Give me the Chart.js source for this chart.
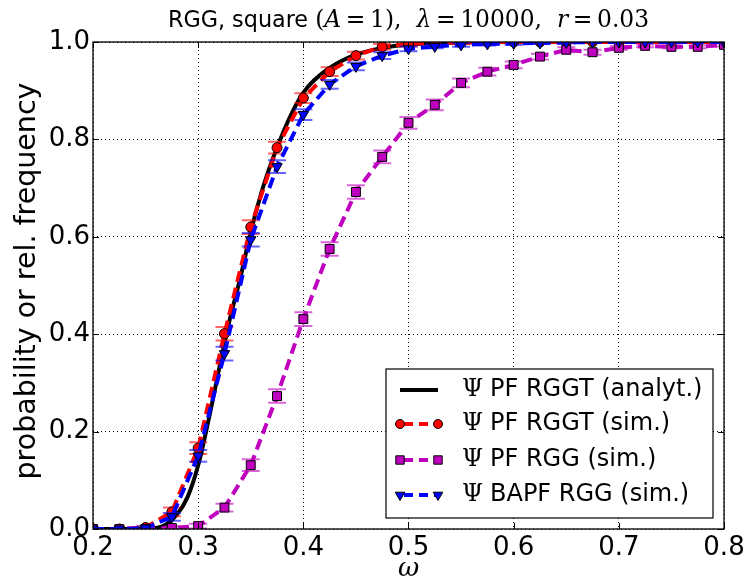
<!DOCTYPE html>
<html><head><meta charset="utf-8">
<script src="https://cdn.jsdelivr.net/npm/chart.js@4/dist/chart.umd.min.js"></script>
<style>html,body{margin:0;padding:0;background:#fff;}#wrap{width:750px;height:583px;position:relative;}</style>
</head><body><div id="wrap"><canvas id="c" width="750" height="583"></canvas></div>
<script>
// ---- data ----
const omega = [0.2,0.225,0.25,0.275,0.3,0.325,0.35,0.375,0.4,0.425,0.45,0.475,0.5,0.525,0.55,0.575,0.6,0.625,0.65,0.675,0.7,0.725,0.75,0.775,0.8];
const psiPfRggtSim  = [0,0,0.003,0.035,0.166,0.401,0.62,0.783,0.885,0.939,0.972,0.99,0.996,0.998,0.999,1,1,1,1,1,1,1,1,1,1];
const errPfRggtSim  = [0,0,0.003,0.009,0.012,0.014,0.014,0.012,0.01,0.009,0.008,0.006,0.005,0.004,0.003,0.002,0,0,0,0,0,0,0,0,0];
const psiPfRggSim   = [0,0,0,0.002,0.006,0.044,0.131,0.273,0.431,0.575,0.692,0.764,0.834,0.871,0.916,0.939,0.953,0.97,0.984,0.979,0.988,0.992,0.99,0.99,0.994];
const errPfRggSim   = [0,0,0,0.003,0.005,0.008,0.012,0.014,0.014,0.014,0.014,0.013,0.012,0.011,0.009,0.008,0.007,0.006,0.005,0.005,0.004,0.003,0.003,0.003,0.003];
const psiBapfRggSim = [0,0,0.002,0.025,0.15,0.36,0.594,0.744,0.851,0.913,0.95,0.972,0.986,0.991,0.994,0.996,0.997,0.998,0.999,1,1,1,1,1,1];
const errBapfRggSim = [0,0,0.003,0.008,0.012,0.014,0.014,0.013,0.011,0.009,0.008,0.007,0.005,0.004,0.004,0.003,0.003,0.002,0.002,0,0,0,0,0,0];
const omegaAnalyt   = [0.2,0.24,0.25,0.26,0.27,0.28,0.29,0.3,0.31,0.32,0.33,0.34,0.35,0.36,0.37,0.38,0.39,0.4,0.41,0.425,0.45,0.475,0.5,0.55,0.6,0.7,0.8];
const psiPfRggtAnalyt = [0,0,0.0005,0.002,0.01,0.03,0.066,0.131,0.225,0.33,0.43,0.515,0.61,0.69,0.755,0.81,0.858,0.896,0.921,0.947,0.974,0.988,0.995,0.999,1,1,1];
const xTicks = [0.2,0.3,0.4,0.5,0.6,0.7,0.8];
const yTicks = [0.0,0.2,0.4,0.6,0.8,1.0];
const seriesLabels = ['PF RGGT (analyt.)','PF RGGT (sim.)','PF RGG (sim.)','BAPF RGG (sim.)'];
const titleText = ['RGG, square ', '(', 'A', '\u2009=\u20091),  ', 'λ', '\u2009=\u200910000,  ', 'r', '\u2009=\u20090.03'];
const xLabel = 'ω';
const yLabel = 'probability or rel. frequency';

const pts = (xs, ys) => xs.map((v,i)=>({x:v, y:ys[i]}));
const SANS = '"DejaVu Sans"';
const SERIF = '"DejaVu Serif"';

const datasets = [
  {label: seriesLabels[0], data: pts(omegaAnalyt, psiPfRggtAnalyt), showLine:true, borderColor:'#000', borderWidth:4,
   pointRadius:0, cubicInterpolationMode:'monotone', order:4, clip:0, mk:null},
  {label: seriesLabels[1], data: pts(omega, psiPfRggtSim), errors: errPfRggtSim, errColor:'rgba(255,0,0,0.6)',
   showLine:true, borderColor:'#ff0000', borderWidth:4, borderDash:[11,6],
   pointStyle:'circle', pointRadius:5, pointBackgroundColor:'#ff0000', pointBorderColor:'#000', pointBorderWidth:1, order:3, clip:0, mk:'circle'},
  {label: seriesLabels[2], data: pts(omega, psiPfRggSim), errors: errPfRggSim, errColor:'rgba(191,0,191,0.6)',
   showLine:true, borderColor:'#bf00bf', borderWidth:4, borderDash:[11,6],
   pointStyle:'rect', pointRadius:6.3, pointBackgroundColor:'#bf00bf', pointBorderColor:'#000', pointBorderWidth:1, order:2, clip:0, mk:'rect'},
  {label: seriesLabels[3], data: pts(omega, psiBapfRggSim), errors: errBapfRggSim, errColor:'rgba(0,0,255,0.6)',
   showLine:true, borderColor:'#0000ff', borderWidth:4, borderDash:[11,6],
   pointStyle:'triangle', pointRotation:180, pointRadius:6, pointBackgroundColor:'#0000ff', pointBorderColor:'#000', pointBorderWidth:1, order:1, clip:0, mk:'tri'}
];

const errorBars = {
  id:'errorBars',
  beforeDatasetDraw(chart, args){
    const ds = chart.data.datasets[args.index];
    if(!ds.errors) return;
    const {ctx, chartArea:a, scales:{x,y}} = chart;
    ctx.save();
    ctx.beginPath(); ctx.rect(a.left,a.top,a.right-a.left,a.bottom-a.top); ctx.clip();
    ctx.strokeStyle = ds.errColor; ctx.lineWidth = 2; ctx.setLineDash([]);
    ds.data.forEach((p,i)=>{
      const e = ds.errors[i];
      const px = x.getPixelForValue(p.x);
      const yt = y.getPixelForValue(p.y+e), yb = y.getPixelForValue(p.y-e);
      ctx.beginPath();
      ctx.moveTo(px,yt); ctx.lineTo(px,yb);
      ctx.moveTo(px-9,yt); ctx.lineTo(px+9,yt);
      ctx.moveTo(px-9,yb); ctx.lineTo(px+9,yb);
      ctx.stroke();
    });
    ctx.restore();
  }
};

function drawMarker(ctx, kind, x, y, color){
  ctx.save(); ctx.setLineDash([]); ctx.fillStyle=color; ctx.strokeStyle='#000'; ctx.lineWidth=1;
  ctx.beginPath();
  if(kind==='circle'){ ctx.arc(x,y,4.5,0,Math.PI*2); }
  else if(kind==='rect'){ ctx.rect(x-4.2,y-4.2,8.4,8.4); }
  else if(kind==='tri'){ ctx.moveTo(x-4.8,y-2.8); ctx.lineTo(x+4.8,y-2.8); ctx.lineTo(x,y+5.5); ctx.closePath(); }
  ctx.fill(); ctx.stroke(); ctx.restore();
}

const decor = {
  id:'decor',
  afterDatasetsDraw(chart){
    const {ctx, chartArea:a, scales:{x,y}} = chart;
    ctx.save();
    ctx.strokeStyle='#000'; ctx.lineWidth=1; ctx.setLineDash([]);
    ctx.beginPath();
    xTicks.forEach(v=>{const px=Math.round(x.getPixelForValue(v))+0.5; ctx.moveTo(px,a.bottom); ctx.lineTo(px,a.bottom-6); ctx.moveTo(px,a.top); ctx.lineTo(px,a.top+6);});
    yTicks.forEach(v=>{const py=Math.round(y.getPixelForValue(v))+0.5; ctx.moveTo(a.left,py); ctx.lineTo(a.left+6,py); ctx.moveTo(a.right,py); ctx.lineTo(a.right-6,py);});
    ctx.stroke();
    ctx.lineWidth=1.3;
    ctx.strokeRect(a.left,a.top,a.right-a.left,a.bottom-a.top);
    ctx.restore();
  },
  afterDraw(chart){
    const {ctx, chartArea:a} = chart;
    ctx.save();
    const lw=327, lh=149, lx=a.right-11-lw, ly=a.bottom-11-lh;
    ctx.fillStyle='#fff'; ctx.fillRect(lx,ly,lw,lh);
    ctx.strokeStyle='#000'; ctx.lineWidth=1.2; ctx.strokeRect(lx,ly,lw,lh);
    const ds = chart.data.datasets;
    const rowY = [21, 55, 91, 126];
    ds.forEach((d,i)=>{
      const yy = ly+rowY[i];
      const x0=lx+14, x1=lx+52;
      ctx.save();
      ctx.strokeStyle=d.borderColor; ctx.lineWidth=4;
      ctx.setLineDash([]);
      if(d.borderDash){ ctx.setLineDash([9,6]); ctx.lineDashOffset=-4; }
      ctx.beginPath(); ctx.moveTo(x0,yy); ctx.lineTo(x1,yy); ctx.stroke();
      ctx.restore();
      if(d.mk){ drawMarker(ctx,d.mk,x0,yy,d.pointBackgroundColor); drawMarker(ctx,d.mk,x1,yy,d.pointBackgroundColor); }
      ctx.fillStyle='#000'; ctx.textBaseline='middle'; ctx.textAlign='left';
      ctx.font='24px '+SERIF; ctx.fillText('Ψ', lx+76, yy);
      ctx.font='24px '+SANS; ctx.fillText(d.label, lx+104, yy);
    });
    const fonts = ['22.3px '+SANS,'23.4px '+SERIF,'italic 23.4px '+SERIF,'23.4px '+SERIF,'italic 23.4px '+SERIF,'23.4px '+SERIF,'italic 23.4px '+SERIF,'23.4px '+SERIF];
    let tw=0; titleText.forEach((t,i)=>{ctx.font=fonts[i]; tw+=ctx.measureText(t).width;});
    let tx=(a.left+a.right)/2 - tw/2;
    ctx.fillStyle='#000'; ctx.textBaseline='alphabetic'; ctx.textAlign='left';
    titleText.forEach((t,i)=>{ctx.font=fonts[i]; ctx.fillText(t,tx,27); tx+=ctx.measureText(t).width;});
    ctx.font='italic 26px '+SERIF; ctx.textAlign='center';
    ctx.fillText(xLabel,(a.left+a.right)/2,576);
    ctx.save(); ctx.translate(35,281); ctx.rotate(-Math.PI/2);
    ctx.font='28.5px '+SANS; ctx.textAlign='center'; ctx.textBaseline='alphabetic';
    ctx.fillText(yLabel,0,0); ctx.restore();
    ctx.restore();
  }
};

new Chart(document.getElementById('c'), {
  type:'scatter',
  data:{datasets},
  options:{
    responsive:false, animation:false, devicePixelRatio:1,
    layout:{padding:{left:0,right:26,top:42,bottom:0}},
    plugins:{legend:{display:false}, tooltip:{enabled:false}, title:{display:false}},
    scales:{
      x:{type:'linear', min:0.2, max:0.8,
         afterBuildTicks:s=>{s.ticks=xTicks.map(v=>({value:v}));},
         afterFit:s=>{s.height=54;},
         ticks:{callback:v=>Number(v).toFixed(1), color:'#000', font:{family:'DejaVu Sans', size:26}, padding:4, maxRotation:0, autoSkip:false},
         grid:{color:'#000', lineWidth:1, drawTicks:false},
         border:{display:false, dash:[1,3]}},
      y:{type:'linear', min:0, max:1,
         afterBuildTicks:s=>{s.ticks=yTicks.map(v=>({value:v}));},
         afterFit:s=>{s.width=93;},
         ticks:{callback:v=>Number(v).toFixed(1), color:'#000', font:{family:'DejaVu Sans', size:26}, padding:3, autoSkip:false},
         grid:{color:'#000', lineWidth:1, drawTicks:false},
         border:{display:false, dash:[1,3]}}
    }
  },
  plugins:[errorBars, decor]
});
</script></body></html>
